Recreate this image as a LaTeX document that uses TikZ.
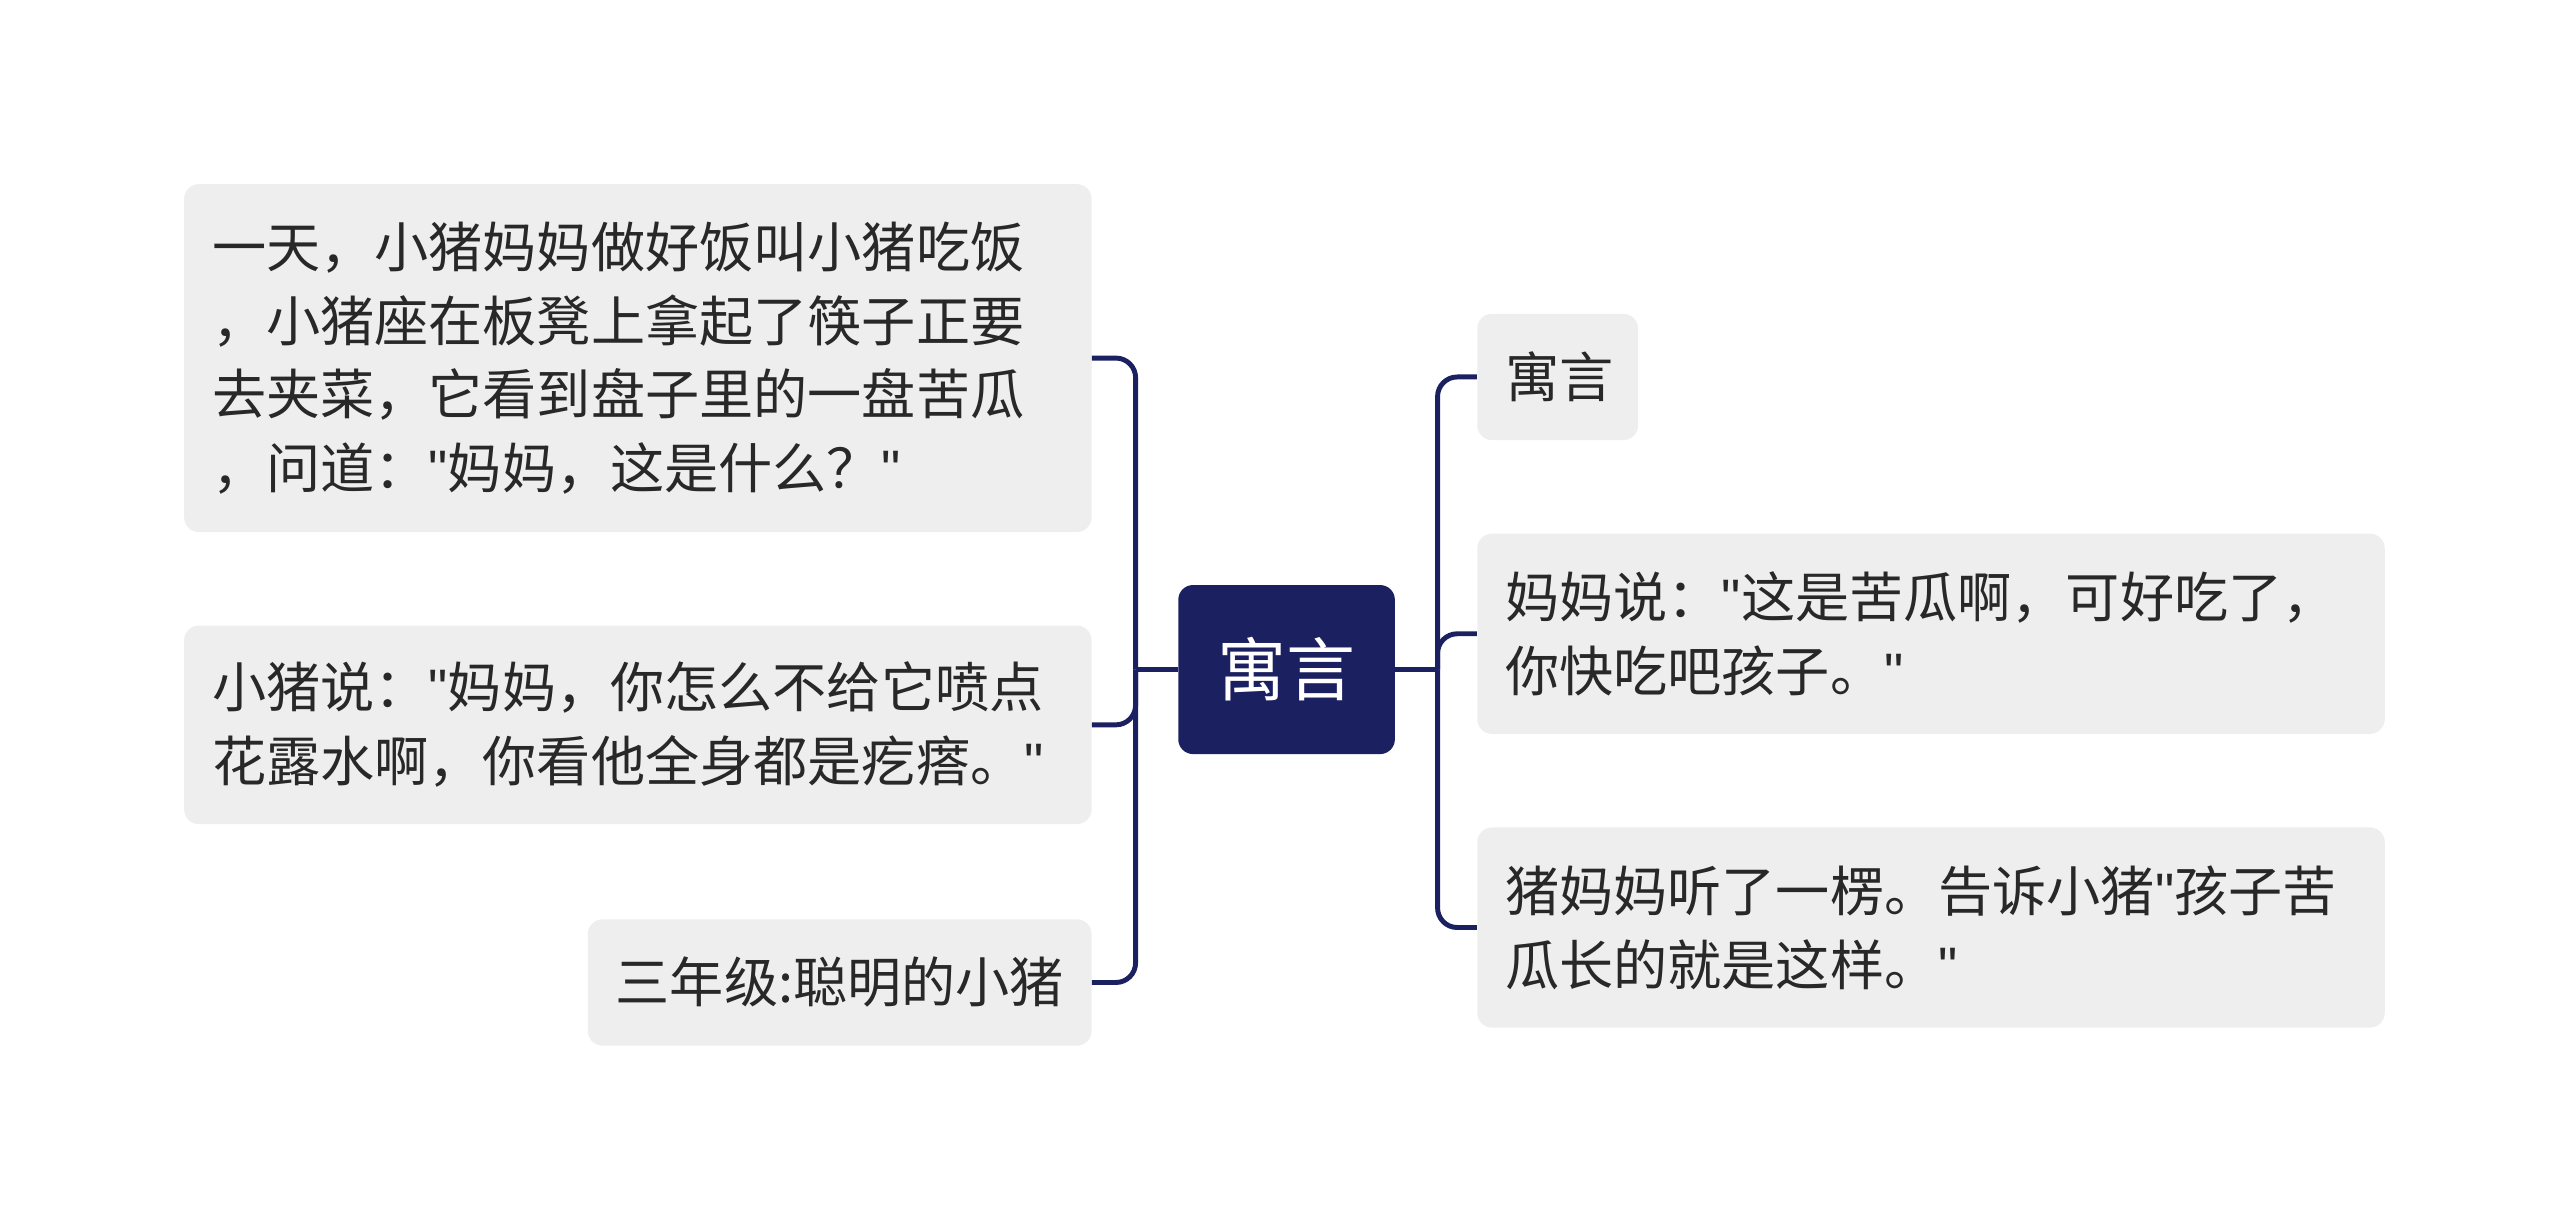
\documentclass[tikz,border=0pt]{standalone}
\usepackage{fontspec}
\setmainfont{Noto Sans CJK SC}
\newfontfamily\quotefont{Liberation Sans}
\newcommand{\qq}{{\quotefont"}}
\usetikzlibrary{positioning}
\definecolor{navy}{RGB}{27,32,96}
\definecolor{leafgray}{RGB}{238,238,238}
\definecolor{leaftext}{RGB}{40,40,40}
\tikzset{
  leaf/.style={fill=leafgray,rounded corners=9pt,anchor=north west,align=left,
    inner xsep=17pt,inner ysep=12pt,text=leaftext,font=\fontsize{33}{45}\selectfont},
  root/.style={fill=navy,rounded corners=9pt,text=white,minimum width=132pt,
    minimum height=103pt,font=\fontsize{42}{48}\selectfont},
  conn/.style={draw=navy,line width=3pt,rounded corners=12pt}
}
\begin{document}
\begin{tikzpicture}[x=1pt,y=-1pt]
\useasboundingbox (0,0) rectangle (1560,747);

% root
\node[root] (yuyan) at (784,408) {寓言};

% left leaves
\node[leaf,text width=519pt,minimum height=212pt] (tian) at (112,112) {一天，小猪妈妈做好饭叫小猪吃饭\\，小猪座在板凳上拿起了筷子正要\\去夹菜，它看到盘子里的一盘苦瓜\\，问道：\qq 妈妈，这是什么？\qq};
\node[leaf,text width=519pt,minimum height=121pt] (shuo) at (112,381) {小猪说：\qq 妈妈，你怎么不给它喷点\\花露水啊，你看他全身都是疙瘩。\qq};
\node[leaf,text width=273pt,minimum height=77pt] (title) at (358,560) {三年级:聪明的小猪};

% right leaves
\node[leaf,text width=64pt,minimum height=77pt] (tag) at (900,191) {寓言};
\node[leaf,text width=519pt,minimum height=122pt] (mama) at (900,325) {妈妈说：\qq 这是苦瓜啊，可好吃了，\\你快吃吧孩子。\qq};
\node[leaf,text width=519pt,minimum height=122pt] (ting) at (900,504) {猪妈妈听了一楞。告诉小猪\qq 孩子苦\\瓜长的就是这样。\qq};

% connectors
\coordinate (jl) at (692,408);
\coordinate (jr) at (876,408);
\draw[conn] (yuyan.west) -- (jl);
\draw[conn] (jl) |- (tian.east);
\draw[conn] (jl) |- (shuo.east);
\draw[conn] (jl) |- (title.east);
\draw[conn] (yuyan.east) -- (jr);
\draw[conn] (jr) |- (tag.west);
\draw[conn] (jr) |- (mama.west);
\draw[conn] (jr) |- (ting.west);
\end{tikzpicture}
\end{document}
